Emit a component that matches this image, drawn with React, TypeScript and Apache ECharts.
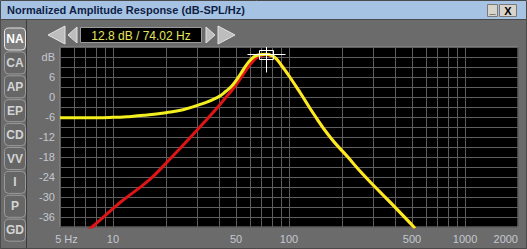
import React, { useEffect, useRef } from 'react';
import * as echarts from 'echarts';

const titleText = 'Normalized Amplitude Response (dB-SPL/Hz)';
const tabLabels = ['NA', 'CA', 'AP', 'EP', 'CD', 'VV', 'I', 'P', 'GD'];

const yellowFreq = [5, 8, 10, 12, 15, 20, 25, 31, 39, 44, 48, 53, 58, 63, 68, 74, 80, 85, 92, 101, 116, 137, 171, 214, 263, 329, 411, 500, 520];
const yellowDb = [-6.2, -6.2, -6.1, -5.9, -5.5, -4.7, -3.8, -2.3, -0.2, 1.8, 3.7, 6.9, 10.0, 12.0, 12.7, 12.8, 12.4, 11.4, 9.0, 6.0, 1.2, -4.8, -12, -17.8, -23.2, -28.5, -33.7, -38.4, -39.4];

const redFreq = [7, 7.6, 10, 11.25, 16.2, 20.3, 25, 31.2, 39, 44, 48, 53, 58, 63, 68, 74, 80, 85, 92, 101, 116, 137, 171, 214, 263, 329, 411, 500, 520];
const redDb = [-40.5, -39, -33.5, -31.2, -24.7, -19.5, -14.5, -9, -3.3, 0.0, 2.4, 5.6, 8.6, 11.0, 12.3, 12.7, 12.3, 11.3, 9.0, 6.0, 1.2, -4.8, -12, -17.8, -23.2, -28.5, -33.7, -38.4, -39.4];

const xGridFreqs = [5, 6, 7, 8, 9, 10, 20, 30, 40, 50, 60, 70, 80, 90, 100, 200, 300, 400, 500, 600, 700, 800, 900, 1000, 2000];
const xLabelFreqs = [5, 10, 50, 100, 500, 1000, 2000];
const yLabelValues = [12, 6, 0, -6, -12, -18, -24, -30, -36];

const cursorFreq = 74.02;
const cursorDb = 12.8;

const FONT = '"Liberation Sans", Arial, sans-serif';

export default function App() {
  const ref = useRef<HTMLDivElement>(null);
  useEffect(() => {
    document.body.style.margin = '0';
    const chart = echarts.init(ref.current!, null, { renderer: 'svg' });
    const option: any = {
      animation: false,
      backgroundColor: '#6b6b6b',
      grid: {
        left: 60, top: 47, width: 458, height: 180,
        show: true, backgroundColor: '#000000', borderColor: '#8c8c8c', borderWidth: 1,
      },
      xAxis: {
        type: 'log', logBase: 10, min: 5, max: 2000,
        axisLine: { show: false },
        axisTick: { show: false, customValues: xGridFreqs },
        splitLine: { show: true, lineStyle: { color: '#5e5e5e', width: 1 } },
        axisLabel: {
          customValues: xLabelFreqs,
          margin: 6,
          color: '#c4c8d0',
          fontFamily: FONT,
          fontSize: 11,
          alignMaxLabel: 'right',
          formatter: (v: number) => (v === 5 ? '{f|5 Hz}' : String(v)),
          rich: { f: { padding: [0, 0, 0, 13], color: '#c4c8d0', fontFamily: FONT, fontSize: 11 } },
        },
      },
      yAxis: {
        type: 'value', min: -39, max: 15, interval: 3,
        axisLine: { show: false },
        axisTick: { show: false },
        splitLine: { show: true, lineStyle: { color: '#5e5e5e', width: 1 } },
        axisLabel: {
          margin: 5,
          color: '#c4c8d0',
          fontFamily: FONT,
          fontSize: 11,
          formatter: (v: number) => (yLabelValues.indexOf(v) >= 0 ? (v === 12 ? 'dB' : String(v)) : ''),
        },
      },
      series: [
        {
          type: 'line', name: 'red', data: redFreq.map((f, i) => [f, redDb[i]]),
          showSymbol: false, smooth: 0.5, clip: true, z: 3,
          lineStyle: { color: '#e01414', width: 3 },
        },
        {
          type: 'line', name: 'yellow', data: yellowFreq.map((f, i) => [f, yellowDb[i]]),
          showSymbol: false, smooth: 0.5, clip: true, z: 4,
          lineStyle: { color: '#f4f020', width: 3 },
        },
      ],
    };
    chart.setOption(option);
    const p = chart.convertToPixel({ xAxisIndex: 0, yAxisIndex: 0 }, [cursorFreq, cursorDb]) as number[];
    const cx = Math.round(p[0]) + 0.5;
    const cy = Math.round(p[1]) + 0.5;

    const tabs: any[] = [];
    tabLabels.forEach((t, i) => {
      const y = 39 + i * 23.9;
      const sel = i === 0;
      tabs.push({
        type: 'rect', shape: { x: 4.5, y: y - 11, width: 21, height: 22, r: 4 },
        style: { fill: sel ? '#7e7e7e' : '#666666', stroke: sel ? '#e4e4e4' : '#9a9a9a', lineWidth: 1 },
      });
      tabs.push({
        type: 'text', x: 15, y: y,
        style: { text: t, fill: sel ? '#ffffff' : '#d4d4d4', font: `bold 12px ${FONT}`, align: 'center', verticalAlign: 'middle' },
      });
    });

    const tri = '#bdbdbd';
    const triStroke = '#e2e2e2';
    const elements: any[] = [
      { type: 'rect', shape: { x: 0, y: 0, width: 527, height: 19 }, style: { fill: '#a7c3e3' } },
      { type: 'line', shape: { x1: 0, y1: 19.5, x2: 527, y2: 19.5 }, style: { stroke: '#4a4a4a', lineWidth: 1 } },
      { type: 'text', x: 7, y: 10, style: { text: titleText, fill: '#0e1e46', font: `bold 11px ${FONT}`, verticalAlign: 'middle' } },
      { type: 'rect', shape: { x: 487.5, y: 4.5, width: 10, height: 12 }, style: { fill: '#d8d4cc', stroke: '#7a7a7a' } },
      { type: 'text', x: 492.5, y: 9, style: { text: '_', fill: '#000', font: `bold 11px ${FONT}`, align: 'center', verticalAlign: 'middle' } },
      { type: 'rect', shape: { x: 499.5, y: 4.5, width: 17, height: 12 }, style: { fill: '#d8d4cc', stroke: '#7a7a7a' } },
      { type: 'text', x: 508, y: 11, style: { text: 'X', fill: '#000', font: `bold 11px ${FONT}`, align: 'center', verticalAlign: 'middle' } },
      { type: 'line', shape: { x1: 26.5, y1: 20, x2: 26.5, y2: 249 }, style: { stroke: '#3c3c3c', lineWidth: 1 } },
      { type: 'rect', shape: { x: 0.5, y: 0.5, width: 526, height: 248 }, style: { fill: 'none', stroke: '#4a4a4a', lineWidth: 1 } },
      ...tabs,
      { type: 'polygon', shape: { points: [[48, 35], [65, 26], [65, 44]] }, style: { fill: tri, stroke: triStroke } },
      { type: 'polygon', shape: { points: [[68, 35], [77, 27], [77, 43]] }, style: { fill: tri, stroke: triStroke } },
      { type: 'rect', shape: { x: 80.5, y: 27.5, width: 121, height: 15 }, style: { fill: '#000', stroke: '#9a9a9a' } },
      {
        type: 'text', x: 141, y: 35.5,
        style: { text: `${cursorDb.toFixed(1)} dB / ${cursorFreq.toFixed(2)} Hz`, fill: '#e6e65a', font: `12px ${FONT}`, align: 'center', verticalAlign: 'middle' },
      },
      { type: 'polygon', shape: { points: [[206, 27], [206, 43], [215, 35]] }, style: { fill: tri, stroke: triStroke } },
      { type: 'polygon', shape: { points: [[218, 26], [218, 44], [235, 35]] }, style: { fill: tri, stroke: triStroke } },
      // crosshair
      { type: 'line', z: 100, shape: { x1: cx - 19, y1: cy, x2: cx + 19, y2: cy }, style: { stroke: '#ffffff', lineWidth: 1 } },
      { type: 'line', z: 100, shape: { x1: cx, y1: Math.max(47, cy - 8), x2: cx, y2: cy + 18 }, style: { stroke: '#ffffff', lineWidth: 1 } },
      { type: 'rect', z: 100, shape: { x: cx - 7, y: cy - 4, width: 14, height: 9 }, style: { fill: 'none', stroke: '#ffffff', lineWidth: 1 } },
    ];
    chart.setOption({ graphic: { elements } });
    return () => chart.dispose();
  }, []);
  return <div ref={ref} style={{ width: 527, height: 249 }} />;
}
